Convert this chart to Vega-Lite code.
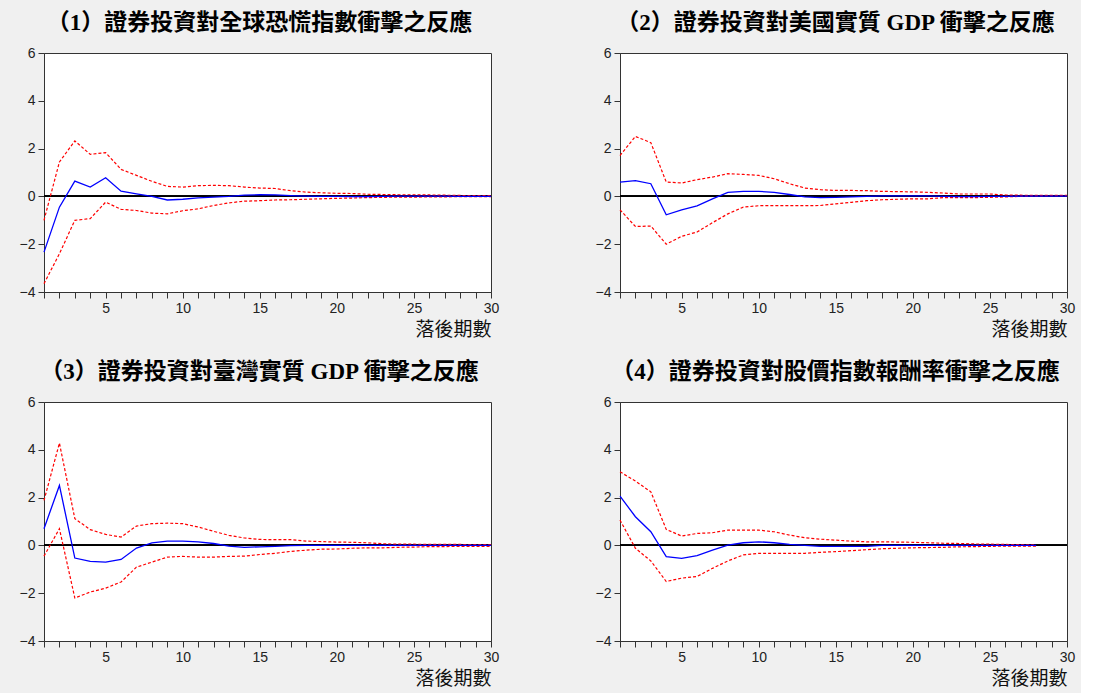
{
  "$schema": "https://vega.github.io/schema/vega-lite/v6.json",
  "padding": {"left": 18, "top": 11, "right": 5, "bottom": 5},
  "background": "#f0f0f0",
  "datasets": {
    "irf": [
      {"p":1,"x":1,"irf":-2.33,"lo":-3.65,"hi":-1.0},
      {"p":1,"x":2,"irf":-0.45,"lo":-2.4,"hi":1.44},
      {"p":1,"x":3,"irf":0.64,"lo":-1.0,"hi":2.32},
      {"p":1,"x":4,"irf":0.39,"lo":-0.93,"hi":1.76},
      {"p":1,"x":5,"irf":0.78,"lo":-0.24,"hi":1.83},
      {"p":1,"x":6,"irf":0.22,"lo":-0.54,"hi":1.13},
      {"p":1,"x":7,"irf":0.11,"lo":-0.59,"hi":0.88},
      {"p":1,"x":8,"irf":0.0,"lo":-0.7,"hi":0.63},
      {"p":1,"x":9,"irf":-0.15,"lo":-0.73,"hi":0.42},
      {"p":1,"x":10,"irf":-0.12,"lo":-0.6,"hi":0.39},
      {"p":1,"x":11,"irf":-0.06,"lo":-0.52,"hi":0.45},
      {"p":1,"x":12,"irf":-0.03,"lo":-0.38,"hi":0.46},
      {"p":1,"x":13,"irf":0.0,"lo":-0.27,"hi":0.45},
      {"p":1,"x":14,"irf":0.05,"lo":-0.2,"hi":0.39},
      {"p":1,"x":15,"irf":0.07,"lo":-0.18,"hi":0.35},
      {"p":1,"x":16,"irf":0.06,"lo":-0.15,"hi":0.33},
      {"p":1,"x":17,"irf":0.03,"lo":-0.14,"hi":0.24},
      {"p":1,"x":18,"irf":0.01,"lo":-0.12,"hi":0.18},
      {"p":1,"x":19,"irf":0.0,"lo":-0.1,"hi":0.15},
      {"p":1,"x":20,"irf":0.0,"lo":-0.08,"hi":0.13},
      {"p":1,"x":21,"irf":-0.01,"lo":-0.07,"hi":0.12},
      {"p":1,"x":22,"irf":-0.01,"lo":-0.05,"hi":0.09},
      {"p":1,"x":23,"irf":0.0,"lo":-0.04,"hi":0.08},
      {"p":1,"x":24,"irf":0.01,"lo":-0.03,"hi":0.07},
      {"p":1,"x":25,"irf":0.01,"lo":-0.03,"hi":0.07},
      {"p":1,"x":26,"irf":0.01,"lo":-0.02,"hi":0.06},
      {"p":1,"x":27,"irf":0.01,"lo":-0.02,"hi":0.05},
      {"p":1,"x":28,"irf":0.0,"lo":-0.01,"hi":0.04},
      {"p":1,"x":29,"irf":0.0,"lo":-0.01,"hi":0.03},
      {"p":1,"x":30,"irf":0.0,"lo":-0.01,"hi":0.03},
      {"p":2,"x":1,"irf":0.6,"lo":-0.56,"hi":1.71},
      {"p":2,"x":2,"irf":0.66,"lo":-1.26,"hi":2.51},
      {"p":2,"x":3,"irf":0.53,"lo":-1.24,"hi":2.25},
      {"p":2,"x":4,"irf":-0.77,"lo":-2.0,"hi":0.6},
      {"p":2,"x":5,"irf":-0.56,"lo":-1.67,"hi":0.56},
      {"p":2,"x":6,"irf":-0.4,"lo":-1.49,"hi":0.7},
      {"p":2,"x":7,"irf":-0.1,"lo":-1.1,"hi":0.81},
      {"p":2,"x":8,"irf":0.17,"lo":-0.73,"hi":0.95},
      {"p":2,"x":9,"irf":0.21,"lo":-0.45,"hi":0.92},
      {"p":2,"x":10,"irf":0.21,"lo":-0.39,"hi":0.88},
      {"p":2,"x":11,"irf":0.17,"lo":-0.39,"hi":0.74},
      {"p":2,"x":12,"irf":0.08,"lo":-0.39,"hi":0.53},
      {"p":2,"x":13,"irf":-0.02,"lo":-0.39,"hi":0.35},
      {"p":2,"x":14,"irf":-0.05,"lo":-0.38,"hi":0.28},
      {"p":2,"x":15,"irf":-0.04,"lo":-0.31,"hi":0.25},
      {"p":2,"x":16,"irf":-0.02,"lo":-0.25,"hi":0.25},
      {"p":2,"x":17,"irf":0.0,"lo":-0.18,"hi":0.24},
      {"p":2,"x":18,"irf":0.02,"lo":-0.14,"hi":0.21},
      {"p":2,"x":19,"irf":0.02,"lo":-0.12,"hi":0.2},
      {"p":2,"x":20,"irf":0.02,"lo":-0.1,"hi":0.19},
      {"p":2,"x":21,"irf":0.02,"lo":-0.1,"hi":0.17},
      {"p":2,"x":22,"irf":0.0,"lo":-0.05,"hi":0.14},
      {"p":2,"x":23,"irf":-0.01,"lo":-0.05,"hi":0.1},
      {"p":2,"x":24,"irf":-0.01,"lo":-0.05,"hi":0.1},
      {"p":2,"x":25,"irf":0.0,"lo":-0.04,"hi":0.1},
      {"p":2,"x":26,"irf":0.0,"lo":-0.02,"hi":0.06},
      {"p":2,"x":27,"irf":0.01,"lo":0.0,"hi":0.05},
      {"p":2,"x":28,"irf":0.01,"lo":0.01,"hi":0.04},
      {"p":2,"x":29,"irf":0.01,"lo":0.02,"hi":0.04},
      {"p":2,"x":30,"irf":0.01,"lo":0.02,"hi":0.04},
      {"p":3,"x":1,"irf":0.7,"lo":-0.45,"hi":1.88},
      {"p":3,"x":2,"irf":2.51,"lo":0.7,"hi":4.28},
      {"p":3,"x":3,"irf":-0.53,"lo":-2.2,"hi":1.12},
      {"p":3,"x":4,"irf":-0.67,"lo":-1.95,"hi":0.66},
      {"p":3,"x":5,"irf":-0.7,"lo":-1.79,"hi":0.46},
      {"p":3,"x":6,"irf":-0.59,"lo":-1.53,"hi":0.35},
      {"p":3,"x":7,"irf":-0.11,"lo":-0.91,"hi":0.81},
      {"p":3,"x":8,"irf":0.11,"lo":-0.7,"hi":0.91},
      {"p":3,"x":9,"irf":0.18,"lo":-0.49,"hi":0.93},
      {"p":3,"x":10,"irf":0.18,"lo":-0.46,"hi":0.91},
      {"p":3,"x":11,"irf":0.15,"lo":-0.49,"hi":0.77},
      {"p":3,"x":12,"irf":0.08,"lo":-0.49,"hi":0.59},
      {"p":3,"x":13,"irf":-0.03,"lo":-0.46,"hi":0.42},
      {"p":3,"x":14,"irf":-0.08,"lo":-0.45,"hi":0.31},
      {"p":3,"x":15,"irf":-0.06,"lo":-0.38,"hi":0.25},
      {"p":3,"x":16,"irf":-0.04,"lo":-0.33,"hi":0.24},
      {"p":3,"x":17,"irf":-0.01,"lo":-0.25,"hi":0.24},
      {"p":3,"x":18,"irf":0.0,"lo":-0.2,"hi":0.18},
      {"p":3,"x":19,"irf":0.0,"lo":-0.16,"hi":0.16},
      {"p":3,"x":20,"irf":0.0,"lo":-0.15,"hi":0.14},
      {"p":3,"x":21,"irf":0.0,"lo":-0.12,"hi":0.13},
      {"p":3,"x":22,"irf":0.0,"lo":-0.1,"hi":0.11},
      {"p":3,"x":23,"irf":0.0,"lo":-0.1,"hi":0.07},
      {"p":3,"x":24,"irf":0.0,"lo":-0.08,"hi":0.05},
      {"p":3,"x":25,"irf":0.0,"lo":-0.07,"hi":0.05},
      {"p":3,"x":26,"irf":0.0,"lo":-0.05,"hi":0.04},
      {"p":3,"x":27,"irf":0.0,"lo":-0.05,"hi":0.04},
      {"p":3,"x":28,"irf":0.0,"lo":-0.04,"hi":0.04},
      {"p":3,"x":29,"irf":0.0,"lo":-0.04,"hi":0.03},
      {"p":3,"x":30,"irf":0.0,"lo":-0.04,"hi":0.03},
      {"p":4,"x":1,"irf":2.06,"lo":1.06,"hi":3.08},
      {"p":4,"x":2,"irf":1.2,"lo":-0.12,"hi":2.69},
      {"p":4,"x":3,"irf":0.57,"lo":-0.65,"hi":2.24},
      {"p":4,"x":4,"irf":-0.47,"lo":-1.51,"hi":0.67},
      {"p":4,"x":5,"irf":-0.54,"lo":-1.37,"hi":0.39},
      {"p":4,"x":6,"irf":-0.43,"lo":-1.3,"hi":0.5},
      {"p":4,"x":7,"irf":-0.2,"lo":-0.96,"hi":0.53},
      {"p":4,"x":8,"irf":0.01,"lo":-0.65,"hi":0.64},
      {"p":4,"x":9,"irf":0.11,"lo":-0.4,"hi":0.64},
      {"p":4,"x":10,"irf":0.15,"lo":-0.33,"hi":0.64},
      {"p":4,"x":11,"irf":0.11,"lo":-0.33,"hi":0.57},
      {"p":4,"x":12,"irf":0.04,"lo":-0.33,"hi":0.43},
      {"p":4,"x":13,"irf":0.0,"lo":-0.33,"hi":0.32},
      {"p":4,"x":14,"irf":-0.04,"lo":-0.29,"hi":0.26},
      {"p":4,"x":15,"irf":-0.04,"lo":-0.26,"hi":0.22},
      {"p":4,"x":16,"irf":-0.04,"lo":-0.22,"hi":0.18},
      {"p":4,"x":17,"irf":-0.04,"lo":-0.18,"hi":0.15},
      {"p":4,"x":18,"irf":0.0,"lo":-0.14,"hi":0.15},
      {"p":4,"x":19,"irf":0.0,"lo":-0.12,"hi":0.14},
      {"p":4,"x":20,"irf":0.0,"lo":-0.1,"hi":0.13},
      {"p":4,"x":21,"irf":0.0,"lo":-0.09,"hi":0.11},
      {"p":4,"x":22,"irf":0.0,"lo":-0.08,"hi":0.09},
      {"p":4,"x":23,"irf":0.0,"lo":-0.06,"hi":0.08},
      {"p":4,"x":24,"irf":0.0,"lo":-0.05,"hi":0.06},
      {"p":4,"x":25,"irf":0.0,"lo":-0.04,"hi":0.05},
      {"p":4,"x":26,"irf":0.0,"lo":-0.03,"hi":0.04},
      {"p":4,"x":27,"irf":0.0,"lo":-0.03,"hi":0.03},
      {"p":4,"x":28,"irf":0.0,"lo":-0.03,"hi":0.02}
    ]
  },
  "columns": 2,
  "spacing": {"row": 20, "column": 94},
  "concat": [
    {
      "title": "（1）證券投資對全球恐慌指數衝擊之反應",
      "width": 447, "height": 239,
      "data": {"name": "irf"},
      "transform": [{"filter": "datum.p == 1"}],
      "layer": [
        {"mark": {"type": "rule", "color": "black", "strokeWidth": 1}, "encoding": {"y": {"datum": 0, "type": "quantitative", "scale": {"domain": [-4, 6], "nice": false}, "axis": {"values": [-4, -2, 0, 2, 4, 6], "tickCount": 6, "title": null}}}},
        {"mark": {"type": "line", "color": "#ff0000", "strokeWidth": 1.2, "strokeDash": [3, 2]}, "encoding": {"x": {"field": "x", "type": "quantitative", "scale": {"domain": [1, 30], "nice": false, "zero": false}, "axis": {"values": [1,2,3,4,5,6,7,8,9,10,11,12,13,14,15,16,17,18,19,20,21,22,23,24,25,26,27,28,29,30], "tickCount": 30, "labelExpr": "datum.value % 5 === 0 ? datum.label : ''", "labelOverlap": false, "labelFlush": false, "title": "落後期數"}}, "y": {"field": "hi", "type": "quantitative"}}},
        {"mark": {"type": "line", "color": "#ff0000", "strokeWidth": 1.2, "strokeDash": [3, 2]}, "encoding": {"x": {"field": "x", "type": "quantitative"}, "y": {"field": "lo", "type": "quantitative"}}},
        {"mark": {"type": "line", "color": "#0000ff", "strokeWidth": 1.3}, "encoding": {"x": {"field": "x", "type": "quantitative"}, "y": {"field": "irf", "type": "quantitative"}}}
      ]
    },
    {
      "title": "（2）證券投資對美國實質 GDP 衝擊之反應",
      "width": 447, "height": 239,
      "data": {"name": "irf"},
      "transform": [{"filter": "datum.p == 2"}],
      "layer": [
        {"mark": {"type": "rule", "color": "black", "strokeWidth": 1}, "encoding": {"y": {"datum": 0, "type": "quantitative", "scale": {"domain": [-4, 6], "nice": false}, "axis": {"values": [-4, -2, 0, 2, 4, 6], "tickCount": 6, "title": null}}}},
        {"mark": {"type": "line", "color": "#ff0000", "strokeWidth": 1.2, "strokeDash": [3, 2]}, "encoding": {"x": {"field": "x", "type": "quantitative", "scale": {"domain": [1, 30], "nice": false, "zero": false}, "axis": {"values": [1,2,3,4,5,6,7,8,9,10,11,12,13,14,15,16,17,18,19,20,21,22,23,24,25,26,27,28,29,30], "tickCount": 30, "labelExpr": "datum.value % 5 === 0 ? datum.label : ''", "labelOverlap": false, "labelFlush": false, "title": "落後期數"}}, "y": {"field": "hi", "type": "quantitative"}}},
        {"mark": {"type": "line", "color": "#ff0000", "strokeWidth": 1.2, "strokeDash": [3, 2]}, "encoding": {"x": {"field": "x", "type": "quantitative"}, "y": {"field": "lo", "type": "quantitative"}}},
        {"mark": {"type": "line", "color": "#0000ff", "strokeWidth": 1.3}, "encoding": {"x": {"field": "x", "type": "quantitative"}, "y": {"field": "irf", "type": "quantitative"}}}
      ]
    },
    {
      "title": "（3）證券投資對臺灣實質 GDP 衝擊之反應",
      "width": 447, "height": 239,
      "data": {"name": "irf"},
      "transform": [{"filter": "datum.p == 3"}],
      "layer": [
        {"mark": {"type": "rule", "color": "black", "strokeWidth": 1}, "encoding": {"y": {"datum": 0, "type": "quantitative", "scale": {"domain": [-4, 6], "nice": false}, "axis": {"values": [-4, -2, 0, 2, 4, 6], "tickCount": 6, "title": null}}}},
        {"mark": {"type": "line", "color": "#ff0000", "strokeWidth": 1.2, "strokeDash": [3, 2]}, "encoding": {"x": {"field": "x", "type": "quantitative", "scale": {"domain": [1, 30], "nice": false, "zero": false}, "axis": {"values": [1,2,3,4,5,6,7,8,9,10,11,12,13,14,15,16,17,18,19,20,21,22,23,24,25,26,27,28,29,30], "tickCount": 30, "labelExpr": "datum.value % 5 === 0 ? datum.label : ''", "labelOverlap": false, "labelFlush": false, "title": "落後期數"}}, "y": {"field": "hi", "type": "quantitative"}}},
        {"mark": {"type": "line", "color": "#ff0000", "strokeWidth": 1.2, "strokeDash": [3, 2]}, "encoding": {"x": {"field": "x", "type": "quantitative"}, "y": {"field": "lo", "type": "quantitative"}}},
        {"mark": {"type": "line", "color": "#0000ff", "strokeWidth": 1.3}, "encoding": {"x": {"field": "x", "type": "quantitative"}, "y": {"field": "irf", "type": "quantitative"}}}
      ]
    },
    {
      "title": "（4）證券投資對股價指數報酬率衝擊之反應",
      "width": 447, "height": 239,
      "data": {"name": "irf"},
      "transform": [{"filter": "datum.p == 4"}],
      "layer": [
        {"mark": {"type": "rule", "color": "black", "strokeWidth": 1}, "encoding": {"y": {"datum": 0, "type": "quantitative", "scale": {"domain": [-4, 6], "nice": false}, "axis": {"values": [-4, -2, 0, 2, 4, 6], "tickCount": 6, "title": null}}}},
        {"mark": {"type": "line", "color": "#ff0000", "strokeWidth": 1.2, "strokeDash": [3, 2]}, "encoding": {"x": {"field": "x", "type": "quantitative", "scale": {"domain": [1, 30], "nice": false, "zero": false}, "axis": {"values": [1,2,3,4,5,6,7,8,9,10,11,12,13,14,15,16,17,18,19,20,21,22,23,24,25,26,27,28,29,30], "tickCount": 30, "labelExpr": "datum.value % 5 === 0 ? datum.label : ''", "labelOverlap": false, "labelFlush": false, "title": "落後期數"}}, "y": {"field": "hi", "type": "quantitative"}}},
        {"mark": {"type": "line", "color": "#ff0000", "strokeWidth": 1.2, "strokeDash": [3, 2]}, "encoding": {"x": {"field": "x", "type": "quantitative"}, "y": {"field": "lo", "type": "quantitative"}}},
        {"mark": {"type": "line", "color": "#0000ff", "strokeWidth": 1.3}, "encoding": {"x": {"field": "x", "type": "quantitative"}, "y": {"field": "irf", "type": "quantitative"}}}
      ]
    }
  ],
  "config": {
    "view": {"fill": "white", "stroke": "#333", "strokeWidth": 1},
    "axis": {"grid": false, "domain": true, "domainColor": "#333", "tickColor": "#333", "tickSize": 6, "labelPadding": 3, "labelFont": "Liberation Sans", "labelFontSize": 14, "labelColor": "#222", "titleFont": "Noto Sans CJK TC", "titleFontWeight": "normal", "titleFontSize": 19, "titleColor": "#111", "titlePadding": 5},
    "axisX": {"titleAnchor": "end"},
    "title": {"font": "Liberation Serif, Noto Sans CJK TC", "fontSize": 23, "fontWeight": "bold", "color": "black", "offset": 11, "anchor": "middle", "dx": -8}
  }
}
